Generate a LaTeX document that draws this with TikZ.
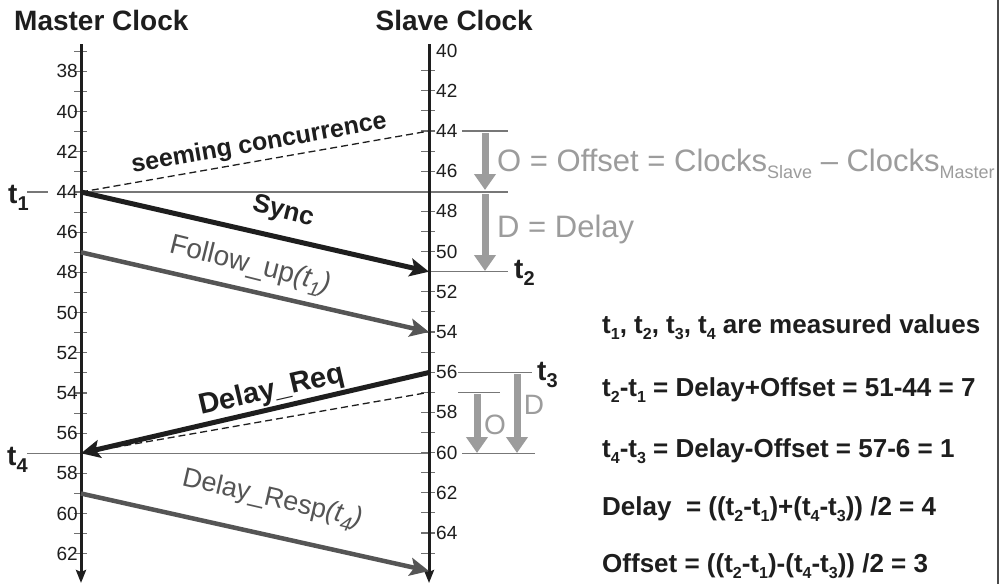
\documentclass[tikz,border=0pt]{standalone}
\usepackage{fontspec}
\setmainfont{Liberation Sans}
\usetikzlibrary{arrows.meta}
\definecolor{ink}{HTML}{1E1E1E}
\definecolor{msggray}{HTML}{555555}
\definecolor{anngray}{HTML}{9C9C9C}
\definecolor{rulegray}{HTML}{777777}
\definecolor{tickgray}{HTML}{707070}
\newcommand\fs[1]{\fontsize{#1}{#1}\selectfont}
\newcommand\lo[1]{\raisebox{-6pt}{\fs{16}#1}}
\newcommand\tlo[1]{\raisebox{-7pt}{\fs{20}#1}}
\newcommand\alo[1]{\raisebox{-7pt}{\fs{18}#1}}
\begin{document}
\begin{tikzpicture}[x=1pt,y=-1pt,
  axisline/.style={line width=3pt, ink, -{Stealth[length=13pt,width=10pt,inset=2pt]}},
  tickmark/.style={line width=1.1pt, tickgray},
  mlab/.style={anchor=east, inner sep=0pt, text=ink, font=\fs{19}},
  slab/.style={anchor=west, inner sep=0pt, text=ink, font=\fs{19}},
  hrule/.style={line width=1.2pt, rulegray},
  dashline/.style={line width=1.3pt, ink, dash pattern=on 7pt off 4pt},
  msgblack/.style={line width=5pt, ink, -{Stealth[length=19pt,width=18pt,inset=4pt]}},
  msggrey/.style={line width=4.5pt, msggray, -{Stealth[length=19pt,width=18pt,inset=4pt]}},
  garrow/.style={line width=7pt, anngray, -{Triangle[length=16pt,width=21pt]}},
  title/.style={inner sep=0pt, text=ink, font=\bfseries\fs{28}},
  tlab/.style={anchor=base west, inner sep=0pt, text=ink, font=\bfseries\fs{28}},
  ann/.style={anchor=base west, inner sep=0pt, text=anngray, font=\fs{31}},
  formula/.style={anchor=base west, inner sep=0pt, text=ink, font=\bfseries\fs{26}},
]
\useasboundingbox (0,0) rectangle (999,584);
\fill[white] (0,0) rectangle (999,584);

% titles
\node[title, anchor=base west] (mtitle) at (14,30) {Master Clock};
\node[title, anchor=base east] (stitle) at (533,30) {Slave Clock};

% axes
\coordinate (mtop) at (81,44);
\coordinate (mbot) at (81,583);
\coordinate (stop) at (429,44);
\coordinate (sbot) at (429,583);

% ticks and labels
\foreach \v in {37,...,62} {
  \pgfmathsetmacro\yy{192+(\v-44)*20.1}
  \draw[tickmark] (74,\yy) -- (87,\yy);
}
\foreach \v in {38,40,...,62} {
  \pgfmathsetmacro\yy{192+(\v-44)*20.1}
  \node[mlab] (ml\v) at (78,\yy) {\v};
}
\foreach \v in {41,...,65} {
  \pgfmathsetmacro\yy{131+(\v-44)*20.1}
  \draw[tickmark] (421,\yy) -- (435,\yy);
}
\foreach \v in {40,42,...,64} {
  \pgfmathsetmacro\yy{131+(\v-44)*20.1}
  \node[slab] (sl\v) at (436,\yy) {\v};
}

% key instants
\coordinate (m44) at (81,192);
\coordinate (m47) at (81,252.3);
\coordinate (m57) at (81,453.3);
\coordinate (m59) at (81,493.5);
\coordinate (s44) at (429,131);
\coordinate (s51) at (429,271.7);
\coordinate (s54) at (429,332);
\coordinate (s56) at (429,372.5);
\coordinate (s57) at (429,392.3);
\coordinate (s66) at (429,571);

% horizontal rules
\coordinate (t1a) at (27,192);
\coordinate (t1b) at (48,192);
\coordinate (r44) at (508,192);
\coordinate (o1a) at (462,131);
\coordinate (o1b) at (508,131);
\coordinate (r51) at (508,271.7);
\coordinate (t3a) at (458,372.5);
\coordinate (t3b) at (532,372.5);
\coordinate (o2a) at (458,392.3);
\coordinate (o2b) at (500,392.3);
\coordinate (t4a) at (27,453.3);
\coordinate (t4b) at (429,453.3);
\coordinate (t4c) at (462,453.3);
\coordinate (t4d) at (535,453.3);
\draw[hrule] (t1a) -- (t1b);
\draw[hrule] (m44) -- (r44);
\draw[hrule] (o1a) -- (o1b);
\draw[hrule] (s51) -- (r51);
\draw[hrule] (t3a) -- (t3b);
\draw[hrule] (o2a) -- (o2b);
\draw[hrule] (t4a) -- (t4b);
\draw[hrule] (t4c) -- (t4d);

% axes drawn over rules
\draw[axisline] (mtop) -- (mbot);
\draw[axisline] (stop) -- (sbot);

% dashed "seeming concurrence" lines
\draw[dashline] (m44) -- node[sloped, above, pos=0.52, inner sep=4pt, text=ink, font=\bfseries\fs{25}] (seem) {seeming concurrence} (s44);
\draw[dashline] (m57) -- (s57);

% messages
\draw[msgblack] (m44) -- (s51);
\draw[msggrey] (m47) -- (s54);
\draw[msgblack] (s56) -- (m57);
\draw[msggrey] (m59) -- (s66);

\node[inner sep=0pt, rotate=-14, text=ink, font=\bfseries\fs{26}] (sync) at (283,212) {Sync};
\node[inner sep=0pt, rotate=-14, text=msggray, font=\fs{28}] (fup) at (250,266) {Follow\_up{\itshape(t\tlo{1})}};
\node[inner sep=0pt, rotate=13, text=ink, font=\bfseries\fs{29}] (dreq) at (272,391) {Delay\_Req};
\node[inner sep=0pt, rotate=-13, text=msggray, font=\fs{27}] (dresp) at (272,500) {Delay\_Resp{\itshape(t\tlo{4})}};

% t labels
\node[tlab] (t1) at (8,203) {t\tlo{1}};
\node[tlab] (t4) at (7,465) {t\tlo{4}};
\node[tlab] (t2) at (514,278) {t\tlo{2}};
\node[tlab] (t3) at (537,380) {t\tlo{3}};

% offset / delay arrows
\coordinate (ga1) at (485,133);
\coordinate (gb1) at (485,190);
\coordinate (ga2) at (485,194);
\coordinate (gb2) at (485,271);
\coordinate (ga3) at (477,394);
\coordinate (gb3) at (477,453);
\coordinate (ga4) at (517,374);
\coordinate (gb4) at (517,453);
\draw[garrow] (ga1) -- (gb1);
\draw[garrow] (ga2) -- (gb2);
\draw[garrow] (ga3) -- (gb3);
\draw[garrow] (ga4) -- (gb4);
\node[inner sep=0pt, text=anngray, font=\fs{28}] (olab) at (495,425) {O};
\node[inner sep=0pt, text=anngray, font=\fs{28}] (dlab) at (534,405) {D};

\node[ann] (offdef) at (497,171) {O = Offset = Clocks\alo{Slave} -- Clocks\alo{Master}};
\node[ann] (deldef) at (497,237) {D = Delay};

% formulas
\node[formula] (f1) at (602,333) {t\lo{1}, t\lo{2}, t\lo{3}, t\lo{4} are measured values};
\node[formula] (f2) at (602,396) {t\lo{2}-t\lo{1} = Delay+Offset = 51-44 = 7};
\node[formula] (f3) at (602,457) {t\lo{4}-t\lo{3} = Delay-Offset = 57-6 = 1};
\node[formula] (f4) at (602,515) {Delay\ \ = ((t\lo{2}-t\lo{1})+(t\lo{4}-t\lo{3})) /2 = 4};
\node[formula] (f5) at (602,572) {Offset = ((t\lo{2}-t\lo{1})-(t\lo{4}-t\lo{3})) /2 = 3};

% right border
\coordinate (rb1) at (998,0);
\coordinate (rb2) at (998,584);
\draw[line width=1.5pt, ink!80] (rb1) -- (rb2);
\end{tikzpicture}
\end{document}
